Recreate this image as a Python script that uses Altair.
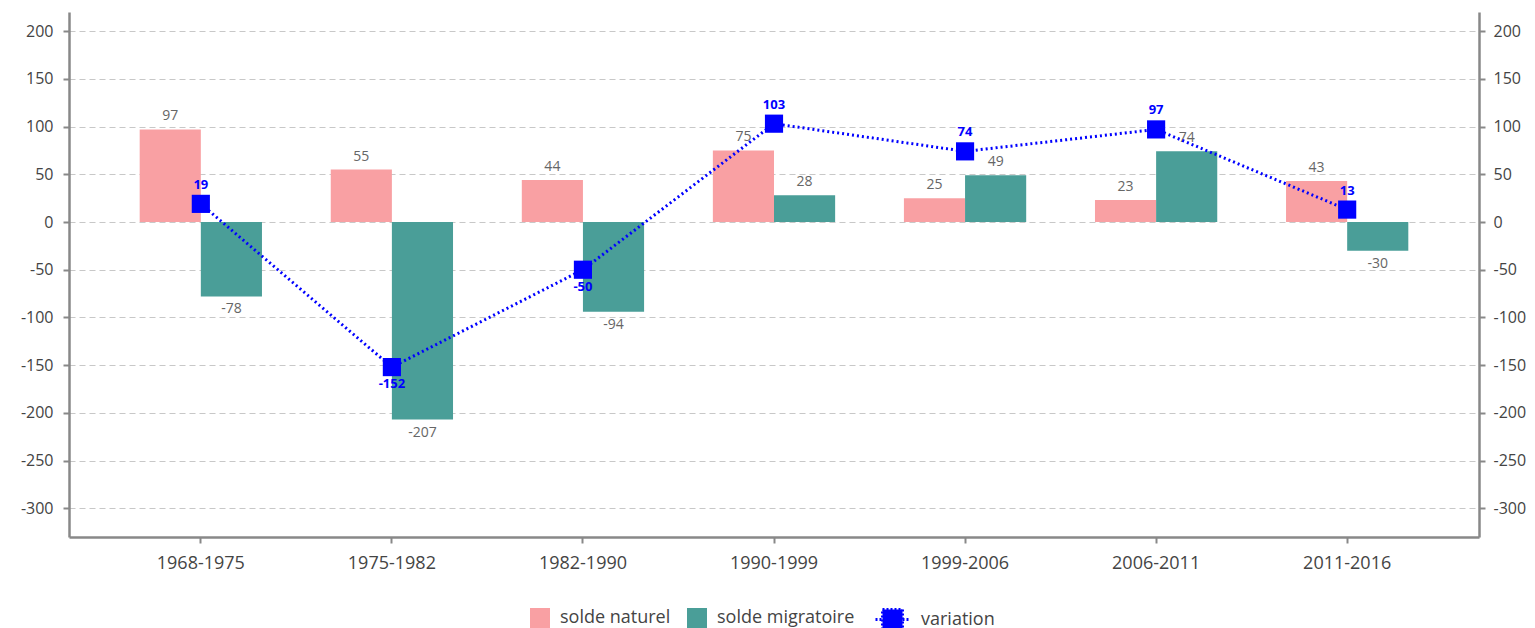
import altair as alt
import pandas as pd

periods = ["1968-1975", "1975-1982", "1982-1990", "1990-1999", "1999-2006", "2006-2011", "2011-2016"]
solde_naturel = [97, 55, 44, 75, 25, 23, 43]
solde_migratoire = [-78, -207, -94, 28, 49, 74, -30]
variation = [19, -152, -50, 103, 74, 97, 13]

bar_series = ["solde naturel", "solde migratoire"]
bar_colors = ["#F9A0A3", "#4A9E98"]
line_series = ["variation"]
line_colors = ["#0000FF"]

rows = []
for p, n, m in zip(periods, solde_naturel, solde_migratoire):
    rows.append({"periode": p, "serie": "solde naturel", "valeur": n})
    rows.append({"periode": p, "serie": "solde migratoire", "valeur": m})
bars_df = pd.DataFrame(rows)
line_df = pd.DataFrame({"periode": periods, "serie": "variation", "valeur": variation})

FONT = "Open Sans"
ydom = [-330, 220]
yvals = list(range(-300, 201, 50))

xenc = alt.X("periode:N", sort=periods, title=None,
             scale=alt.Scale(paddingInner=0.36, paddingOuter=0.37),
             axis=alt.Axis(labelAngle=0, labelFontSize=18, labelColor="#444", labelFont=FONT,
                           domainColor="#888", domainWidth=2.5, tickColor="#888", tickWidth=2,
                           tickSize=6, labelPadding=11, grid=False))

fill = alt.Fill("serie:N", scale=alt.Scale(domain=bar_series, range=bar_colors),
                legend=alt.Legend(orient="none", legendX=461, legendY=596, direction="horizontal",
                                  title=None, labelFontSize=18, labelFont=FONT, labelColor="#444",
                                  symbolType="square", symbolSize=400, symbolStrokeWidth=0,
                                  columnPadding=16, labelOffset=10))
stroke = alt.Stroke("serie:N", scale=alt.Scale(domain=line_series, range=line_colors),
                    legend=alt.Legend(orient="none", legendX=812, legendY=596, direction="horizontal",
                                      title=None, labelFontSize=18, labelFont=FONT, labelColor="#444",
                                      symbolType="M-1.7,0H-1M-1,-1H1V1H-1ZM1,0H1.7",
                                      symbolSize=400, symbolStrokeWidth=3, symbolDash=[2, 2],
                                      symbolFillColor="#0000FF", labelOffset=17))

axis_common = dict(values=yvals, labelFontSize=16, labelColor="#444", labelFont=FONT,
                   domainColor="#888", domainWidth=2.5, tickColor="#888", tickWidth=2,
                   tickSize=6, labelExpr="toString(datum.value)")
yleft = alt.Y("valeur:Q", title=None, scale=alt.Scale(domain=ydom, nice=False, zero=False),
              axis=alt.Axis(orient="left", grid=True, gridColor="#c8c8c8", gridDash=[6, 4],
                            gridWidth=1.2, labelPadding=10, **axis_common))
yright = alt.Y("valeur:Q", title=None, scale=alt.Scale(domain=ydom, nice=False, zero=False),
               axis=alt.Axis(orient="right", grid=False, labelPadding=8, **axis_common))

offset = alt.XOffset("serie:N", sort=bar_series, scale=alt.Scale(paddingInner=0))

bars_base = alt.Chart(bars_df).transform_calculate(lbl="toString(datum.valeur)")
bars = bars_base.mark_bar().encode(x=xenc, xOffset=offset, y=yleft, fill=fill)
lab_pos = bars_base.transform_filter("datum.valeur >= 0").mark_text(
    baseline="bottom", dy=-6, fontSize=14, color="#666", font=FONT
).encode(x=xenc, xOffset=offset, y=yleft, text="lbl:N")
lab_neg = bars_base.transform_filter("datum.valeur < 0").mark_text(
    baseline="top", dy=6, fontSize=14, color="#666", font=FONT
).encode(x=xenc, xOffset=offset, y=yleft, text="lbl:N")

left = alt.layer(bars, lab_pos, lab_neg)

lbase = alt.Chart(line_df).transform_calculate(lbl="toString(datum.valeur)")
line = lbase.mark_line(strokeDash=[2, 3], strokeWidth=3).encode(x=xenc, y=yright, stroke=stroke)
pts = lbase.mark_point(shape="square", filled=True, size=330, opacity=1, color="#0000FF").encode(
    x=xenc, y=yright)
vpos = lbase.transform_filter("datum.valeur >= 0").mark_text(
    baseline="bottom", dy=-12, fontSize=13, fontWeight="bold", color="#0000FF", font=FONT
).encode(x=xenc, y=yright, text="lbl:N")
vneg = lbase.transform_filter("datum.valeur < 0").mark_text(
    baseline="top", dy=11, fontSize=13, fontWeight="bold", color="#0000FF", font=FONT
).encode(x=xenc, y=yright, text="lbl:N")

right = alt.layer(line, pts, vpos, vneg)

chart = alt.layer(left, right).resolve_scale(y="independent").properties(
    width=1410, height=525,
    autosize=alt.AutoSizeParams(type="none"),
    padding={"left": 61, "top": 4, "right": 48, "bottom": 91},
).configure(font=FONT).configure_view(stroke=None)

chart.save("out.html", embed_options={"renderer": "svg", "actions": False})
